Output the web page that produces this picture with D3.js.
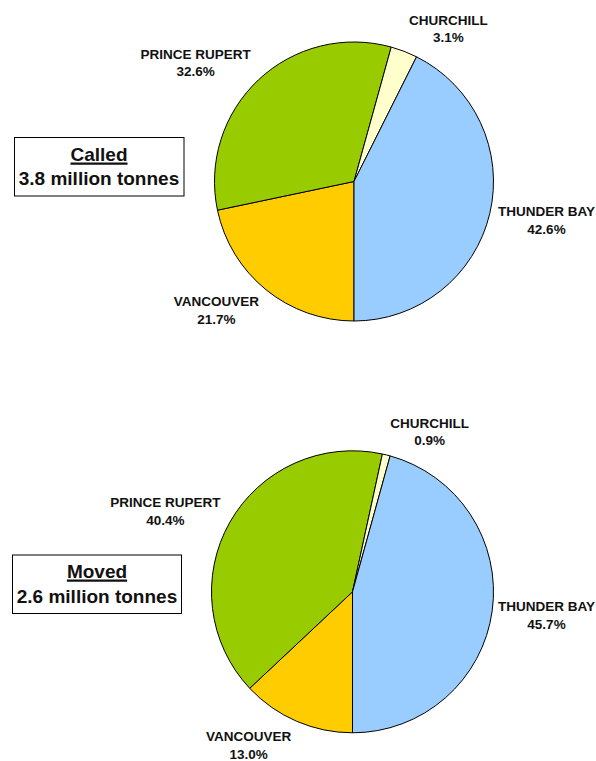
<!DOCTYPE html>
<html>
<head>
<meta charset="utf-8">
<script src="https://cdn.jsdelivr.net/npm/d3@7"></script>
<style>
  html, body { margin: 0; padding: 0; background: #fff; }
  svg { display: block; font-family: "Liberation Sans", Arial, sans-serif; font-weight: bold; }
</style>
</head>
<body>
<script>
// Grain shipments by port: share of tonnes called vs. moved
const ports = ["VANCOUVER", "PRINCE RUPERT", "CHURCHILL", "THUNDER BAY"];
const calledShare = [21.7, 32.6, 3.1, 42.6];
const movedShare = [13.0, 40.4, 0.9, 45.7];
const panelTitles = ["Called", "Moved"];
const panelTotals = ["3.8 million tonnes", "2.6 million tonnes"];

const portColors = {
  "VANCOUVER": "#FFCC00",
  "PRINCE RUPERT": "#99CC00",
  "CHURCHILL": "#FFFFCC",
  "THUNDER BAY": "#99CCFF"
};

const width = 596, height = 761;
const svg = d3.select("body").append("svg")
  .attr("width", width).attr("height", height);

const panels = [
  { shares: calledShare, cx: 354, cy: 181.5, r: 139.5,
    box: { x: 14.5, y: 137.5, w: 169.5, h: 58.5, tx: 99, y1: 160.7, y2: 185.3 } },
  { shares: movedShare, cx: 352.5, cy: 591.8, r: 141,
    box: { x: 12.5, y: 555, w: 169, h: 58.5, tx: 97, y1: 577.7, y2: 603.3 } }
];

// Slices run clockwise from six o'clock, in port order
const pie = d3.pie().sort(null).value(d => d.value)
  .startAngle(Math.PI).endAngle(3 * Math.PI);

panels.forEach((p, i) => {
  const data = ports.map((name, k) => ({ name, value: p.shares[k] }));
  const arcs = pie(data);
  const arc = d3.arc().innerRadius(0).outerRadius(p.r);
  const g = svg.append("g").attr("transform", `translate(${p.cx},${p.cy})`);

  g.selectAll("path.slice").data(arcs).join("path")
    .attr("class", "slice")
    .attr("d", arc)
    .attr("fill", d => portColors[d.data.name])
    .attr("stroke", "#000")
    .attr("stroke-width", 1)
    .attr("stroke-linejoin", "round");

  // Category + percentage labels set just outside each slice
  const fmt = d3.format(".1f");
  const lab = g.selectAll("g.lab").data(arcs).join("g").attr("class", "lab");
  lab.append("text")
    .attr("text-anchor", "middle")
    .attr("font-size", 13.5)
    .attr("fill", "#111")
    .call(t => {
      t.append("tspan").attr("x", 0).attr("y", -3).text(d => d.data.name);
      t.append("tspan").attr("x", 0).attr("y", 14.5).text(d => fmt(d.data.value) + "%");
    });
  lab.attr("transform", function (d) {
    const a = (d.startAngle + d.endAngle) / 2;
    const s = Math.sin(a), c = -Math.cos(a);
    const w = this.getBBox().width;
    let x = (p.r + 8) * s + Math.sign(s) * (w / 2 + 2);
    // keep the label inside the page
    x = Math.min(x, width - 1 - p.cx - w / 2);
    x = Math.max(x, 1 - p.cx + w / 2);
    const y = (p.r + 25) * c;
    return `translate(${x},${y})`;
  });

  // Title box to the left of the pie
  const b = p.box;
  svg.append("rect")
    .attr("x", b.x).attr("y", b.y).attr("width", b.w).attr("height", b.h)
    .attr("fill", "#fff").attr("stroke", "#000").attr("stroke-width", 1);
  const title = svg.append("text")
    .attr("x", b.tx).attr("y", b.y1)
    .attr("text-anchor", "middle").attr("font-size", 19).attr("fill", "#111")
    .text(panelTitles[i]);
  const tw = title.node().getBBox().width;
  svg.append("line")
    .attr("x1", b.tx - tw / 2).attr("x2", b.tx + tw / 2)
    .attr("y1", b.y1 + 3).attr("y2", b.y1 + 3)
    .attr("stroke", "#111").attr("stroke-width", 2.2);
  svg.append("text")
    .attr("x", b.tx).attr("y", b.y2)
    .attr("text-anchor", "middle").attr("font-size", 19).attr("fill", "#111")
    .text(panelTotals[i]);
});
</script>
</body>
</html>
